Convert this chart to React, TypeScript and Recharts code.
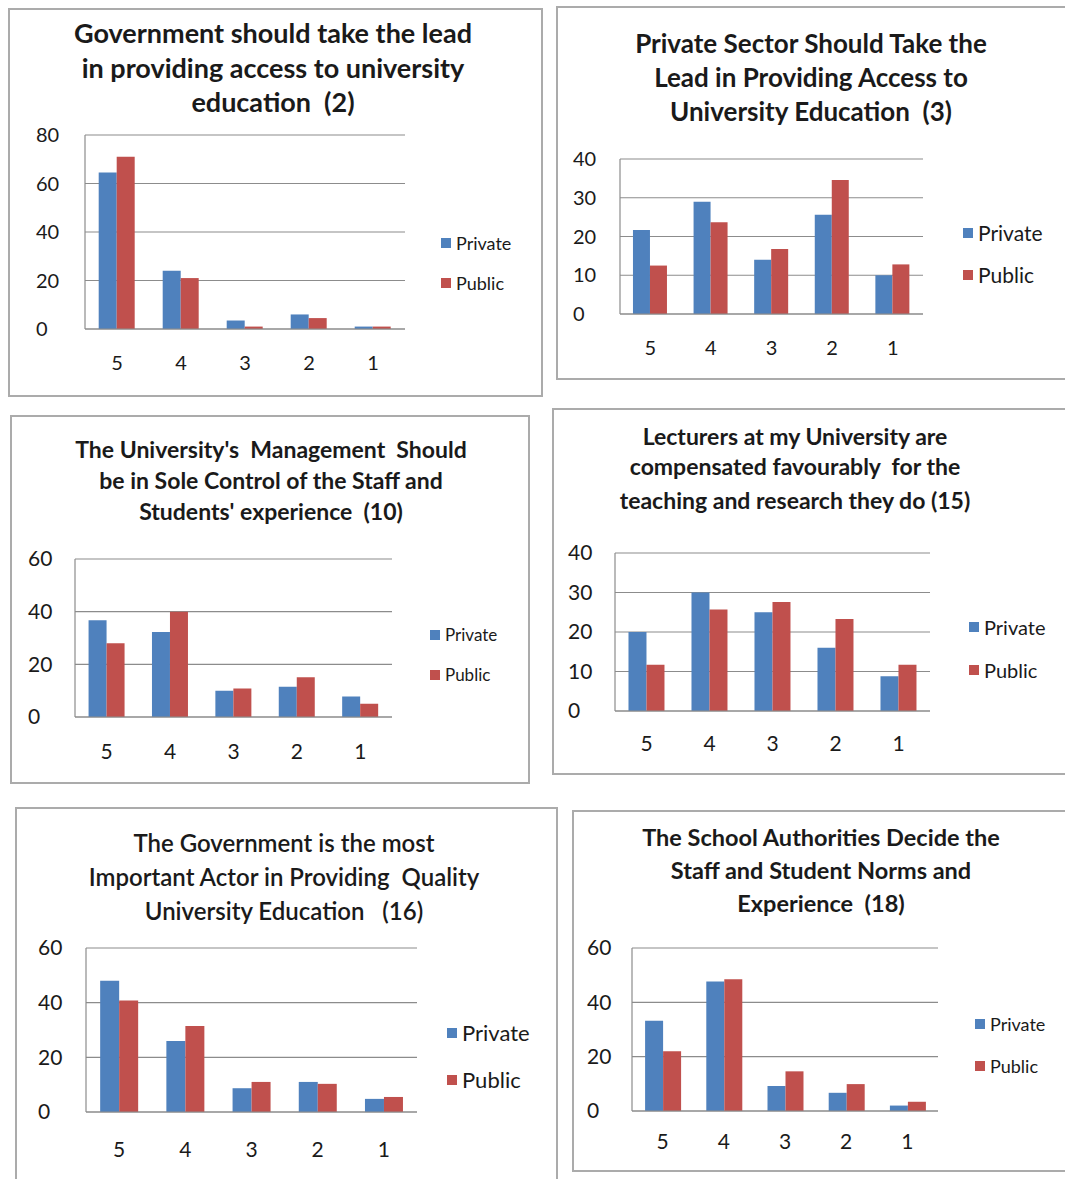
import React from 'react';
import { BarChart, Bar, XAxis, YAxis, CartesianGrid, Legend } from 'recharts';

const categories = ['5', '4', '3', '2', '1'];

const c1Private = [64.5, 24, 3.5, 6, 1];
const c1Public = [71, 21, 1, 4.5, 1];
const c2Private = [21.7, 29, 14, 25.6, 10];
const c2Public = [12.5, 23.7, 16.8, 34.6, 12.8];
const c3Private = [36.7, 32.3, 10, 11.5, 7.8];
const c3Public = [28, 40, 10.8, 15.1, 5];
const c4Private = [20, 30, 25, 16, 8.8];
const c4Public = [11.7, 25.7, 27.6, 23.3, 11.7];
const c5Private = [48, 26, 8.7, 11, 4.8];
const c5Public = [40.8, 31.5, 11, 10.3, 5.5];
const c6Private = [33.2, 47.7, 9.2, 6.7, 2];
const c6Public = [22, 48.5, 14.6, 9.9, 3.4];

const ticks80 = [0, 20, 40, 60, 80];
const ticks40 = [0, 10, 20, 30, 40];
const ticks60 = [0, 20, 40, 60];

const title1 = ['Government should take the lead', 'in providing access to university', 'education  (2)'];
const title2 = ['Private Sector Should Take the', 'Lead in Providing Access to', 'University Education  (3)'];
const title3 = ["The University's  Management  Should", 'be in Sole Control of the Staff and', "Students' experience  (10)"];
const title4 = ['Lecturers at my University are', 'compensated favourably  for the', 'teaching and research they do (15)'];
const title5 = ['The Government is the most', 'Important Actor in Providing  Quality', 'University Education   (16)'];
const title6 = ['The School Authorities Decide the', 'Staff and Student Norms and', 'Experience  (18)'];

const BLUE = '#4F81BD';
const RED = '#C0504D';
const GRID = '#8c8c8c';
const FONT = 'Lato, "Open Sans", sans-serif';
const TEXT = '#1a1a1a';

const build = (priv: number[], pub: number[]) =>
  categories.map((c, i) => ({ cat: c, Private: priv[i], Public: pub[i] }));

type Cfg = {
  box: { x: number; y: number; w: number; h: number };
  plot: { l: number; t: number; r: number; b: number };
  priv: number[];
  pub: number[];
  ticks: number[];
  yLabelLeft: number;
  xLabelY: number;
  tickFont: number;
  title: string[];
  titleY: number[];
  titleX: number;
  titleFont: number;
  titleWeight: number;
  legendX: number;
  legendY: number[];
  legendFont: number;
};

const panels: Cfg[] = [
  {
    box: { x: 8, y: 8, w: 535, h: 389 },
    plot: { l: 85, t: 135, r: 405, b: 329 },
    priv: c1Private, pub: c1Public, ticks: ticks80,
    yLabelLeft: 36, xLabelY: 363, tickFont: 20,
    title: title1, titleY: [33, 68, 102], titleX: 273, titleFont: 27, titleWeight: 700,
    legendX: 441, legendY: [243, 283], legendFont: 18,
  },
  {
    box: { x: 556, y: 6, w: 520, h: 374 },
    plot: { l: 620, t: 159, r: 923, b: 314 },
    priv: c2Private, pub: c2Public, ticks: ticks40,
    yLabelLeft: 573, xLabelY: 348, tickFont: 20,
    title: title2, titleY: [43, 77, 111], titleX: 811, titleFont: 26, titleWeight: 700,
    legendX: 963, legendY: [233, 275], legendFont: 21,
  },
  {
    box: { x: 10, y: 415, w: 520, h: 369 },
    plot: { l: 75, t: 559, r: 392, b: 717 },
    priv: c3Private, pub: c3Public, ticks: ticks60,
    yLabelLeft: 28, xLabelY: 752, tickFont: 21,
    title: title3, titleY: [449, 480, 511], titleX: 271, titleFont: 23, titleWeight: 700,
    legendX: 430, legendY: [635, 675], legendFont: 17,
  },
  {
    box: { x: 552, y: 408, w: 520, h: 367 },
    plot: { l: 615, t: 553, r: 930, b: 711 },
    priv: c4Private, pub: c4Public, ticks: ticks40,
    yLabelLeft: 568, xLabelY: 744, tickFont: 21,
    title: title4, titleY: [436, 466, 500], titleX: 795, titleFont: 23, titleWeight: 700,
    legendX: 969, legendY: [627, 670], legendFont: 20,
  },
  {
    box: { x: 15, y: 807, w: 543, h: 380 },
    plot: { l: 86, t: 948, r: 417, b: 1112 },
    priv: c5Private, pub: c5Public, ticks: ticks60,
    yLabelLeft: 38, xLabelY: 1150, tickFont: 21,
    title: title5, titleY: [843, 877, 911], titleX: 284, titleFont: 24, titleWeight: 600,
    legendX: 447, legendY: [1033, 1080], legendFont: 22,
  },
  {
    box: { x: 572, y: 810, w: 500, h: 362 },
    plot: { l: 632, t: 948, r: 938, b: 1111 },
    priv: c6Private, pub: c6Public, ticks: ticks60,
    yLabelLeft: 587, xLabelY: 1142, tickFont: 21,
    title: title6, titleY: [837, 870, 903], titleX: 821, titleFont: 23.5, titleWeight: 700,
    legendX: 975, legendY: [1024, 1066], legendFont: 18,
  },
];

function Panel({ cfg }: { cfg: Cfg }) {
  const { box, plot } = cfg;
  const data = build(cfg.priv, cfg.pub);
  const marginLeft = 2;
  const marginBottom = 2;
  const yAxisWidth = plot.l - box.x - marginLeft;
  const xAxisHeight = box.y + box.h - plot.b - marginBottom;
  const margin = {
    top: plot.t - box.y,
    right: box.x + box.w - plot.r,
    left: marginLeft,
    bottom: marginBottom,
  };
  const yMax = cfg.ticks[cfg.ticks.length - 1];

  const YTick = (props: any) => {
    const { x, y, payload } = props;
    return (
      <text x={x - (plot.l - cfg.yLabelLeft)} y={y} dy="0.355em" textAnchor="start"
        fontFamily={FONT} fontSize={cfg.tickFont} fill={TEXT}>
        {payload.value}
      </text>
    );
  };
  const XTick = (props: any) => {
    const { x, y, payload } = props;
    return (
      <text x={x} y={y + (cfg.xLabelY - plot.b)} dy="0.355em" textAnchor="middle"
        fontFamily={FONT} fontSize={cfg.tickFont} fill={TEXT}>
        {payload.value}
      </text>
    );
  };
  const renderLegend = (props: any) => {
    const items = props.payload || [];
    return (
      <div style={{ position: 'relative', width: 130, height: 100 }}>
        {items.map((it: any, i: number) => (
          <div key={it.value} style={{
            position: 'absolute', left: 0, top: cfg.legendY[i] - cfg.legendY[0],
            height: 0, display: 'flex', alignItems: 'center', whiteSpace: 'nowrap',
          }}>
            <span style={{ display: 'inline-block', width: 10, height: 10, background: it.color, marginRight: 5 }} />
            <span style={{ fontFamily: FONT, fontSize: cfg.legendFont, color: TEXT, lineHeight: '0px' }}>{it.value}</span>
          </div>
        ))}
      </div>
    );
  };

  return (
    <>
      <div style={{
        position: 'absolute', left: box.x, top: box.y, width: box.w, height: box.h,
        border: '2px solid #ababab', boxSizing: 'border-box', background: '#fff',
      }} />
      {cfg.title.map((line, i) => (
        <div key={i} style={{
          position: 'absolute', left: cfg.titleX - 300, width: 600, top: cfg.titleY[i] - 15,
          height: 30, lineHeight: '30px', textAlign: 'center', whiteSpace: 'pre',
          fontFamily: FONT, fontWeight: cfg.titleWeight, fontSize: cfg.titleFont, color: TEXT,
        }}>{line}</div>
      ))}
      <div style={{ position: 'absolute', left: box.x, top: box.y }}>
        <BarChart width={box.w} height={box.h} data={data} margin={margin}
          barCategoryGap="21.4%" barGap={0}>
          <CartesianGrid vertical={false} stroke={GRID} strokeWidth={1.2} />
          <XAxis dataKey="cat" height={xAxisHeight} tickLine={false} tickSize={0} tickMargin={0}
            axisLine={{ stroke: GRID, strokeWidth: 1.2 }} tick={<XTick />} interval={0} />
          <YAxis width={yAxisWidth} domain={[0, yMax]} ticks={cfg.ticks} tickLine={false}
            tickSize={0} tickMargin={0} axisLine={{ stroke: GRID, strokeWidth: 1.2 }}
            tick={<YTick />} allowDataOverflow />
          <Legend layout="horizontal" verticalAlign="middle" align="center" content={renderLegend}
            wrapperStyle={{ position: 'absolute', left: cfg.legendX - box.x, top: cfg.legendY[0] - box.y, width: 130, height: 100 }} />
          <Bar dataKey="Private" fill={BLUE} isAnimationActive={false} />
          <Bar dataKey="Public" fill={RED} isAnimationActive={false} />
        </BarChart>
      </div>
    </>
  );
}

export default function App() {
  return (
    <div style={{ position: 'absolute', left: 0, top: 0, width: 1065, height: 1179, background: '#fff', overflow: 'hidden' }}>
      {panels.map((p, i) => <Panel key={i} cfg={p} />)}
    </div>
  );
}
